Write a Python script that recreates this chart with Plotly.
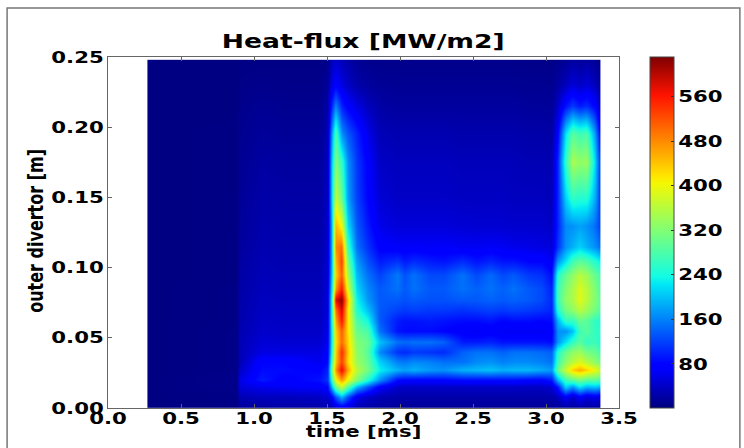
import plotly.graph_objects as go

times = [0.28,0.30,0.88,0.90,1.05,1.20,1.45,1.50,1.53,1.56,1.60,1.64,1.70,1.78,1.86,
         1.98,2.03,2.09,2.20,2.30,2.43,2.52,2.62,2.70,2.78,2.88,2.97,3.04,
         3.08,3.13,3.18,3.23,3.28,3.33,3.365,3.37]
positions = [0.000,0.008,0.015,0.020,0.027,0.033,0.040,0.047,0.055,0.062,0.070,0.077,0.085,0.095,0.105,0.115,0.130,0.150,0.175,0.195,0.215,0.230,0.2465,0.2475]
rows = [
 [3,3,5,15,20,22,24,26,30,45,60,50,30,22,18, 15,15,15,15,15,15,15,15,15,15,15,15,15, 15,18,20,20,18,18,15,15],
 [3,3,5,30,35,35,38,45,70,130,190,130,60,40,30, 25,25,25,25,25,25,25,25,25,25,25,25,25, 35,70,40,70,50,60,50,50],
 [3,3,8,50,60,65,70,80,190,300,370,290,190,130,70, 42,40,40,40,40,40,40,40,40,40,38,38,45, 90,210,170,220,190,200,190,190],
 [3,3,8,55,95,75,90,110,260,400,470,400,320,250,170, 85,80,78,78,80,85,85,85,85,85,80,78,95, 190,270,290,310,290,290,280,280],
 [3,3,6,40,85,85,78,100,300,470,575,460,360,310,230, 190,180,190,175,170,190,195,200,190,195,195,185,175, 300,370,430,455,430,400,370,370],
 [3,3,6,30,80,80,62,85,270,440,530,430,340,300,210, 160,155,165,160,150,150,165,170,160,165,165,160,150, 270,330,360,385,360,330,310,310],
 [3,3,6,30,55,55,55,75,240,430,545,440,330,290,165, 110,105,115,110,105,140,150,150,140,150,150,145,140, 250,300,330,340,310,300,280,280],
 [3,3,6,30,48,46,46,65,230,420,500,430,320,300,200, 150,145,150,150,140,95,95,100,90,90,90,90,85, 170,220,260,290,260,270,250,250],
 [3,3,6,28,42,40,40,60,230,430,510,420,300,280,150, 90,85,85,85,80,70,65,70,65,65,65,65,70, 170,170,200,270,290,260,260,260],
 [3,3,5,26,40,38,38,55,240,460,560,420,280,240,135, 95,90,90,95,90,85,85,90,80,85,85,80,85, 190,260,260,300,290,260,250,250],
 [3,3,5,25,38,36,36,52,240,500,590,420,250,200,135, 120,115,120,115,115,110,115,120,115,120,115,110,100, 250,310,330,360,340,310,290,290],
 [3,3,5,24,36,34,34,52,240,580,625,440,235,175,135, 135,130,135,130,130,135,135,140,135,140,135,125,105, 270,330,350,390,360,320,300,300],
 [3,3,5,23,34,32,32,50,220,470,560,390,215,165,135, 150,135,150,135,135,150,140,150,140,150,135,125,100, 270,320,350,385,360,320,290,290],
 [3,3,4,22,32,30,30,48,200,430,510,350,195,150,120, 155,130,150,125,125,150,125,145,125,135,115,110,85, 250,300,330,360,340,300,280,280],
 [3,3,4,20,30,28,28,46,190,450,530,310,175,130,95, 110,95,105,95,90,105,90,100,90,90,80,80,65, 170,220,270,290,280,250,230,230],
 [3,3,4,18,28,26,26,44,190,480,500,270,150,110,75, 70,68,70,68,70,65,65,68,65,60,58,55,50, 110,170,190,210,190,170,150,150],
 [3,3,4,16,26,24,24,40,190,450,400,220,135,95,60, 50,50,50,50,50,48,46,46,46,44,44,44,40, 100,165,170,180,170,150,120,120],
 [3,3,4,14,24,22,22,38,210,370,300,180,120,80,48, 40,40,40,40,40,38,38,38,38,36,36,36,32, 100,210,260,250,250,190,120,120],
 [3,3,4,12,20,18,18,34,200,320,260,170,115,75,40, 35,35,35,35,35,33,33,33,33,32,30,30,28, 100,260,350,330,340,220,120,120],
 [3,3,4,10,16,14,14,30,170,280,170,135,100,60,32, 28,28,28,28,28,26,26,26,26,26,24,24,22, 75,220,290,270,280,180,90,90],
 [3,3,3,8,12,10,10,24,100,160,100,75,55,35,22, 18,18,18,18,18,18,18,18,18,18,16,16,15, 40,90,115,95,105,80,40,40],
 [3,3,3,6,8,7,7,16,55,75,55,40,25,18,14, 12,12,12,12,12,12,12,12,12,12,11,11,10, 20,35,50,40,50,35,20,20],
 [3,3,3,4,5,5,5,10,35,45,35,25,15,10,8, 8,8,8,8,8,8,8,8,8,8,7,7,7, 10,15,22,18,22,15,10,10],
 [3,3,3,4,5,5,5,10,35,45,35,25,15,10,8, 8,8,8,8,8,8,8,8,8,8,7,7,7, 10,15,22,18,22,15,10,10],
]
x_ticks = [0.0,0.5,1.0,1.5,2.0,2.5,3.0,3.5]
y_ticks = [0.00,0.05,0.10,0.15,0.20,0.25]
cbar_ticks = [80,160,240,320,400,480,560]

jet = [[0,"#00007f"],[0.11,"#0000ff"],[0.125,"#0000ff"],[0.35,"#00e5f7"],[0.375,"#13fce3"],[0.5,"#7cff79"],[0.64,"#f4f802"],[0.66,"#ffe600"],[0.89,"#ff1300"],[1,"#7f0000"]]
FONT = "DejaVu Sans"
W, H = 744, 448
L, R, T, B = 107.5, 619, 56.5, 408

fig = go.Figure(go.Heatmap(
    x=times, y=positions, z=rows, zsmooth="best", colorscale=jet, zmin=1, zmax=631,
    hoverinfo="skip",
    colorbar=dict(tickvals=cbar_ticks, ticks="inside", ticklen=3, tickcolor="#333",
                  tickfont=dict(family=FONT, size=16, color="black", weight="bold"),
                  outlinecolor="#444", outlinewidth=1, thickness=24, thicknessmode="pixels",
                  len=1, lenmode="fraction", x=(650.5-L)/(R-L), xanchor="left", y=0, yanchor="bottom", xpad=0, ypad=0),
))

px = lambda v: (v-L)/(R-L)
py = lambda v: (B-v)/(B-T)
axis = dict(showgrid=False, zeroline=False, mirror="allticks", ticks="inside", ticklen=4,
            linecolor="#666", linewidth=1, tickcolor="#666", automargin=False,
            tickfont=dict(family=FONT, size=16, color="black", weight="bold"))
label_font = dict(family=FONT, size=16, color="black", weight="bold")
fig.update_layout(
    width=W, height=H, margin=dict(l=L, r=W-R, t=T, b=H-B, autoexpand=False),
    paper_bgcolor="white", plot_bgcolor="white",
    font=dict(family=FONT),
    title=dict(text="Heat-flux [MW/m2]", font=dict(family=FONT, size=20, color="black", weight="bold"),
               x=px(363), xref="paper", xanchor="center", y=1-41/H, yanchor="middle"),
    xaxis=dict(axis, range=[0,3.5], tickvals=x_ticks, tickformat=".1f", ticklabelstandoff=-4),
    yaxis=dict(axis, range=[0,0.25], tickvals=y_ticks, tickformat=".2f"),
    annotations=[
        dict(text="time [ms]", xref="paper", yref="paper", x=px(363), y=py(432), showarrow=False,
             xanchor="center", yanchor="middle", font=label_font),
        dict(text="outer divertor [m]", xref="paper", yref="paper", x=px(35), y=py(231), showarrow=False,
             xanchor="center", yanchor="middle", textangle=-90, font=label_font),
    ],
    shapes=[dict(type="path", xref="paper", yref="paper", layer="above",
                 path=f"M {px(6.5)} {py(470)} L {px(6.5)} {py(7.5)} L {px(740)} {py(7.5)} L {px(740)} {py(470)}",
                 line=dict(color="#777", width=1.5))],
)
# The reference is a horizontally stretched image: widen each label in screen space, keeping its anchor.
stretch = """
document.body.style.margin='0';
var s=1.33;
document.querySelectorAll('svg text').forEach(function(t){
  var r=t.getBoundingClientRect(), a=t.getAttribute('text-anchor');
  var c=a==='end'?r.right:(a==='start'?r.left:(r.left+r.right)/2);
  var m=t.parentNode.getScreenCTM();
  var P=new DOMMatrix([m.a,m.b,m.c,m.d,m.e,m.f]);
  var S=new DOMMatrix().translateSelf(c,0).scaleSelf(s,1).translateSelf(-c,0);
  var M=P.inverse().multiply(S).multiply(P);
  var old=t.getAttribute('transform')||'';
  t.setAttribute('transform','matrix('+[M.a,M.b,M.c,M.d,M.e,M.f].join(',')+') '+old);
});
"""
fig.write_html("out.html", post_script=stretch, config=dict(displayModeBar=False))
